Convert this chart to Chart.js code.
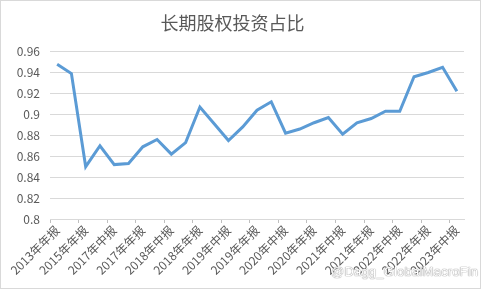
<!DOCTYPE html>
<html>
<head>
<meta charset="utf-8">
<script src="https://cdn.jsdelivr.net/npm/chart.js@4/dist/chart.umd.min.js"></script>
<style>
body{margin:0;background:#fff}
#box{position:relative;width:479px;height:287px;border:1px solid #d9d9d9;background:#fff}
#mark{position:absolute;left:330px;top:263px;font:13px "Liberation Sans",Arial,sans-serif;color:#fff;
text-shadow:0 0 1px #888,0 0 1px #888;letter-spacing:0.2px}
</style>
</head>
<body>
<div id="box">
<canvas id="grafico" width="479" height="287"></canvas>
<div id="mark">@Dagg_GlobalMacroFin</div>
</div>
<script>

/* =========================
DATOS
========================= */

const periodos = [
"2013年年报","2014年年报","2015年年报","2016年年报","2017年中报","2017年三季报",
"2017年年报","2018年一季报","2018年中报","2018年三季报","2018年年报","2019年一季报",
"2019年中报","2019年三季报","2019年年报","2020年一季报","2020年中报","2020年三季报",
"2020年年报","2021年一季报","2021年中报","2021年三季报","2021年年报","2022年一季报",
"2022年中报","2022年三季报","2022年年报","2023年一季报","2023年中报"
]

const proporcion = [
0.948,0.939,0.850,0.870,0.852,0.853,
0.869,0.876,0.862,0.873,0.907,0.891,
0.875,0.888,0.904,0.912,0.882,0.886,
0.892,0.897,0.881,0.892,0.896,0.903,
0.903,0.936,0.940,0.945,0.922
]

const marcasY = [0.8,0.82,0.84,0.86,0.88,0.9,0.92,0.94,0.96]

const titulo = "长期股权投资占比"

const fuente = '"Noto Sans CJK SC","Noto Sans",sans-serif'


/* =========================
GRAFICO
========================= */

let chartLinea = new Chart(document.getElementById("grafico"),{

type:"line",

data:{
labels:periodos,
datasets:[{
label:titulo,
data:proporcion,
borderColor:"#5b9bd5",
borderWidth:3,
pointRadius:0,
tension:0,
fill:false
}]
},

options:{
responsive:false,
animation:false,
layout:{padding:{left:0,right:16,top:0,bottom:0}},
plugins:{
legend:{display:false},
tooltip:{enabled:false},
title:{
display:true,
text:titulo,
color:"#595959",
font:{family:fuente,size:18,weight:"normal"},
padding:{top:11,bottom:18}
}
},
scales:{
x:{
offset:true,
grid:{
offset:true,
drawOnChartArea:false,
drawTicks:true,
tickLength:4,
color:(ctx)=> ctx.index % 2 == 0 ? "#bfbfbf" : "rgba(0,0,0,0)"
},
border:{display:true,color:"#d9d9d9"},
ticks:{
autoSkip:false,
maxRotation:45,
minRotation:45,
padding:0,
color:"#595959",
font:{family:fuente,size:12},
callback:function(v,i){ return i % 2 == 0 ? periodos[i] : "" }
},
afterFit:function(s){ s.height = 69 }
},
y:{
min:0.8,
max:0.96,
afterBuildTicks:function(s){ s.ticks = marcasY.map(v => ({value:v})) },
grid:{color:"#d9d9d9",drawTicks:false},
border:{display:false},
ticks:{
padding:10,
color:"#595959",
font:{family:fuente,size:12},
callback:function(v){ return String(Math.round(v*100)/100) }
},
afterFit:function(s){ s.width = 49 }
}
}
}

})

</script>
</body>
</html>
